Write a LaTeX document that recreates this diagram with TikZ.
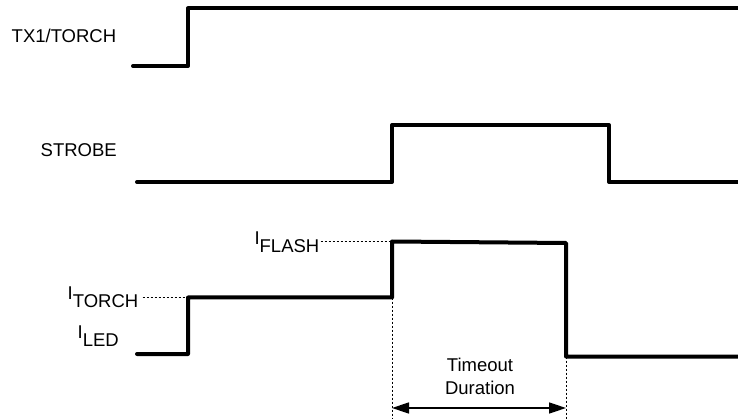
\documentclass[tikz,border=0pt]{standalone}
\usepackage{fontspec}
\setmainfont{Liberation Sans}
\usetikzlibrary{arrows.meta}
\begin{document}
\begin{tikzpicture}[x=1pt,y=-1pt,
  sig/.style={line width=4pt,line join=round,line cap=round},
  guide/.style={line width=1pt,dash pattern=on 2.5pt off 1.5pt},
  lbl/.style={inner sep=0pt,font=\fontsize{18.5}{23}\selectfont},
  dim/.style={line width=1.5pt,{Triangle[length=17pt,width=11pt]}-{Triangle[length=17pt,width=11pt]}}]
\useasboundingbox (0,0) rectangle (738,419);
% labels
\node[lbl,anchor=base west] (ltx) at (11.5,43) {TX1/TORCH};
\node[lbl,anchor=base west] (lst) at (40.5,157) {STROBE};
\node[lbl,anchor=base east] (ltorch) at (138.5,308) {\raisebox{8pt}{I}TORCH};
\node[lbl,anchor=base east] (lled) at (119,346) {\raisebox{8pt}{I}LED};
\node[lbl,anchor=base east] (lflash) at (319.5,253) {\raisebox{8pt}{I}FLASH};
\node[lbl,align=center] (lto) at (480,376.5) {Timeout\\Duration};
% key coordinates
\coordinate (t0) at (133,66);
\coordinate (t1) at (188,66);
\coordinate (t2) at (188,8.5);
\coordinate (t3) at (740,8.5);
\coordinate (s0) at (137,182);
\coordinate (s1) at (392,182);
\coordinate (s2) at (392,125);
\coordinate (s3) at (609,125);
\coordinate (s4) at (609,182);
\coordinate (s5) at (740,182);
\coordinate (i0) at (137,354);
\coordinate (i1) at (188,354);
\coordinate (i2) at (188,297.5);
\coordinate (i3) at (392,297.5);
\coordinate (i4) at (392,241.5);
\coordinate (i5) at (566,243);
\coordinate (i6) at (566,356.5);
\coordinate (i7) at (740,356.5);
\coordinate (b1) at (392,420);
\coordinate (b2) at (566,420);
\coordinate (a1) at (392,408);
\coordinate (a2) at (566,408);
% signals
\draw[sig] (t0) -- (t1) -- (t2) -- (t3);
\draw[sig] (s0) -- (s1) -- (s2) -- (s3) -- (s4) -- (s5);
\draw[sig] (i0) -- (i1) -- (i2) -- (i3) -- (i4) -- (i5) -- (i6) -- (i7);
% guides
\draw[guide] ([xshift=4pt]ltorch.east |- i2) -- (i2);
\draw[guide] ([xshift=1pt]lflash.east |- i4) -- (i4);
\draw[guide] (i3) -- (b1);
\draw[guide] (i6) -- (b2);
\draw[dim] (a1) -- (a2);
\end{tikzpicture}
\end{document}
